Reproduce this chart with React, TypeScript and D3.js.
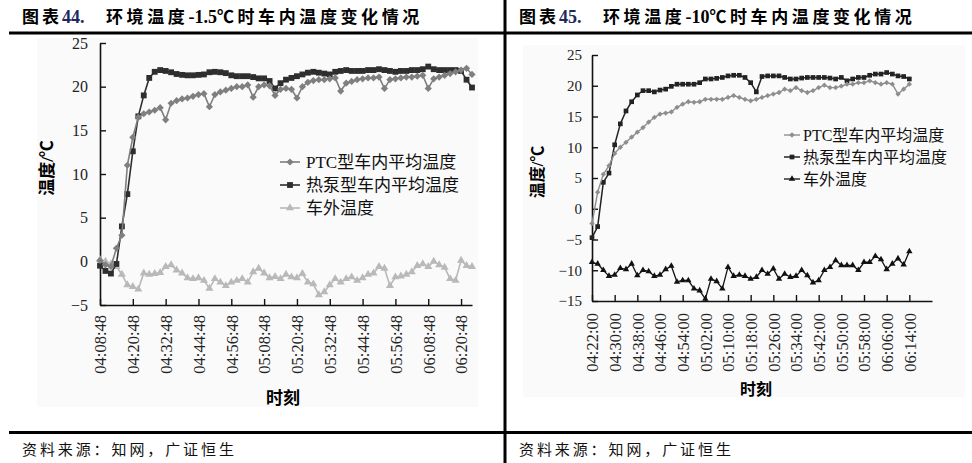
import { useEffect, useRef } from "react";
import * as d3 from "d3";

const W = 972;
const H = 463;
const SERIF = '"Liberation Serif", "Noto Sans CJK SC", serif';
const CJK = '"Noto Sans CJK SC", sans-serif';
const SAMPLE_MIN = 2; // both recordings are sampled every 2 minutes

// ---- 图表44: ambient -1.5℃, first sample 04:08:48 ----
const leftTickLabels = [
  "04:08:48", "04:20:48", "04:32:48", "04:44:48", "04:56:48", "05:08:48",
  "05:20:48", "05:32:48", "05:44:48", "05:56:48", "06:08:48", "06:20:48",
];
const leftPtc = [
  0.1, -0.4, -0.6, 1.5, 3.0, 11.0, 14.2, 16.5, 16.9, 17.1, 17.3, 17.6, 16.2, 18.1, 18.4, 18.6, 18.7,
  18.9, 19.1, 19.2, 17.7, 19.1, 19.4, 19.6, 19.8, 20.0, 20.0, 20.2, 18.8, 20.0, 20.2, 20.1, 19.0,
  19.7, 19.8, 19.7, 18.7, 20.0, 20.5, 20.7, 20.8, 20.8, 20.9, 21.0, 19.5, 20.4, 20.6, 20.8, 20.9,
  21.0, 21.0, 21.1, 19.8, 20.8, 20.9, 21.0, 21.1, 21.1, 21.2, 21.3, 19.8, 20.9, 21.1, 21.3, 21.5,
  21.7, 21.9, 22.1, 21.4,
];
const leftHeatPump = [
  -0.5, -1.1, -1.4, -0.3, 4.0, 7.7, 12.6, 16.6, 19.0, 21.0, 21.7, 21.9, 21.8, 21.65, 21.45, 21.35,
  21.3, 21.3, 21.35, 21.4, 21.65, 21.7, 21.65, 21.55, 21.3, 21.2, 21.2, 21.2, 21.1, 20.95, 20.95,
  20.65, 19.8, 20.4, 20.8, 21.0, 21.2, 21.4, 21.6, 21.7, 21.6, 21.5, 21.4, 21.7, 21.8, 21.9, 21.8,
  21.8, 21.8, 21.9, 21.9, 22.0, 21.9, 21.8, 21.7, 21.8, 21.8, 21.9, 21.9, 22.0, 22.3, 22.0, 21.9,
  21.9, 21.9, 21.9, 21.8, 20.8, 19.9,
];
const leftOutside = [
  0.2, 0, -0.3, -0.6, -1.5, -2.7, -2.9, -3.2, -1.35, -1.5, -1.4, -1.3, -0.6, -0.4, -1.0, -1.35,
  -1.9, -2.0, -1.9, -2.2, -3.1, -2.0, -2.4, -2.8, -2.4, -2.2, -2.0, -2.4, -1.2, -0.8, -1.35, -1.9,
  -1.75, -2.0, -1.5, -1.8, -1.9, -1.4, -2.4, -2.6, -3.85, -3.5, -2.7, -2.0, -2.4, -2.0, -1.8, -2.2,
  -1.9, -1.5, -1.35, -0.6, -0.8, -2.8, -1.8, -1.7, -1.5, -1.2, -0.5, -0.3, -0.6, 0, -0.4, -0.7,
  -2.0, -2.2, 0.1, -0.5, -0.6,
];

// ---- 图表45: ambient -10℃, first sample 04:22:00 ----
const rightTickLabels = [
  "04:22:00", "04:30:00", "04:38:00", "04:46:00", "04:54:00", "05:02:00", "05:10:00", "05:18:00",
  "05:26:00", "05:34:00", "05:42:00", "05:50:00", "05:58:00", "06:06:00", "06:14:00",
];
const rightPtc = [
  -2.4, 2.7, 5.6, 7.0, 9.0, 10.0, 10.8, 11.65, 12.45, 13.2, 14.1, 14.85, 15.4, 15.55, 15.75, 16.5,
  17.0, 17.4, 17.3, 17.4, 17.8, 17.8, 17.8, 17.8, 18.1, 18.4, 18.1, 17.8, 17.55, 17.8, 18.1, 18.4,
  18.65, 18.9, 19.45, 19.2, 19.7, 19.2, 18.9, 19.2, 19.7, 20.1, 19.7, 19.7, 19.95, 20.25, 20.25,
  20.5, 20.5, 20.8, 20.5, 20.25, 20.5, 20.25, 18.65, 19.45, 20.25,
];
const rightHeatPump = [
  -4.7, -2.9, 4.3, 5.8, 10.4, 13.8, 15.9, 17.4, 18.5, 19.2, 19.2, 19.0, 19.3, 19.45, 19.9, 20.25,
  20.25, 20.25, 20.25, 20.5, 21.1, 21.1, 21.2, 21.35, 21.6, 21.7, 21.7, 21.35, 20.5, 19.0, 21.5,
  21.6, 21.6, 21.6, 21.35, 21.1, 21.1, 21.25, 21.35, 21.35, 21.35, 21.35, 21.25, 21.1, 21.35, 20.8,
  21.1, 21.35, 21.35, 21.7, 21.9, 21.9, 22.15, 21.9, 21.6, 21.5, 21.1,
];
const rightOutside = [
  -8.7, -8.95, -10.0, -10.95, -10.75, -9.65, -9.85, -8.95, -10.85, -10.0, -10.2, -10.95, -10.75,
  -9.85, -9.3, -11.9, -11.65, -11.65, -13.0, -13.3, -14.65, -11.4, -11.8, -13.0, -9.5, -10.95,
  -10.75, -10.95, -11.4, -11.1, -10.0, -10.6, -9.75, -11.4, -10.6, -11.1, -10.95, -10.0, -10.85,
  -12.0, -11.65, -10.0, -9.5, -8.4, -9.2, -9.2, -9.2, -10.0, -8.7, -8.7, -7.7, -8.25, -9.85, -8.95,
  -8.1, -9.1, -6.95,
];

const seriesNames = ["PTC型车内平均温度", "热泵型车内平均温度", "车外温度"];

type Sym = "diamond" | "square" | "triangle";
interface SeriesDef { label: string; values: number[]; color: string; sym: Sym; size: number; width: number }

interface PanelCfg {
  fig: string;
  title: string;
  figX: number;
  titleX: number;
  ticks: string[];
  tickStep: number;
  xMax: number;
  yDomain: [number, number];
  plot: { l: number; r: number; t: number; b: number };
  series: SeriesDef[];
  drawOrder: number[];
  legend: { x: number; y: number; dy: number; fs: number; half: number; textX: number };
  fs: { ytick: number; xtick: number; axis: number };
  yLabel: [number, number];
  xLabel: [number, number];
  xPad: number;
  yPad: number;
  bg: [number, number, number, number];
}

const panels: PanelCfg[] = [
  {
    fig: "44.",
    title: "环境温度-1.5℃时车内温度变化情况",
    figX: 22,
    titleX: 106,
    ticks: leftTickLabels,
    tickStep: 12,
    xMax: 136,
    yDomain: [-5, 25],
    plot: { l: 100, r: 472, t: 43, b: 305 },
    series: [
      { label: seriesNames[0], values: leftPtc, color: "#7f7f7f", sym: "diamond", size: 26, width: 1.6 },
      { label: seriesNames[1], values: leftHeatPump, color: "#2e2e2e", sym: "square", size: 34, width: 1.6 },
      { label: seriesNames[2], values: leftOutside, color: "#b9b9b9", sym: "triangle", size: 28, width: 1.6 },
    ],
    drawOrder: [2, 1, 0],
    legend: { x: 290, y: 162, dy: 23, fs: 17, half: 10, textX: 306 },
    fs: { ytick: 16, xtick: 16.5, axis: 17 },
    yLabel: [47, 168],
    xLabel: [283, 404],
    xPad: 10,
    yPad: 12,
    bg: [37, 38, 441, 369],
  },
  {
    fig: "45.",
    title: "环境温度-10℃时车内温度变化情况",
    figX: 519,
    titleX: 603,
    ticks: rightTickLabels,
    tickStep: 8,
    xMax: 120,
    yDomain: [-15, 25],
    plot: { l: 592, r: 932, t: 55, b: 301 },
    series: [
      { label: seriesNames[0], values: rightPtc, color: "#8e8e8e", sym: "diamond", size: 14, width: 1.4 },
      { label: seriesNames[1], values: rightHeatPump, color: "#232323", sym: "square", size: 22, width: 1.5 },
      { label: seriesNames[2], values: rightOutside, color: "#111111", sym: "triangle", size: 18, width: 1.3 },
    ],
    drawOrder: [2, 1, 0],
    legend: { x: 792, y: 135, dy: 22, fs: 16, half: 8, textX: 803 },
    fs: { ytick: 15, xtick: 16.5, axis: 16 },
    yLabel: [537, 172],
    xLabel: [756, 395],
    xPad: 12,
    yPad: 10,
    bg: [523, 45, 442, 352],
  },
];

function symbolPath(sym: Sym, size: number) {
  if (sym === "triangle") return d3.symbol().type(d3.symbolTriangle).size(size)()!;
  return d3.symbol().type(d3.symbolSquare).size(size)()!;
}

// split into latin / CJK runs so only the CJK characters get the wide tracking
function runs(s: string) {
  return s.match(/[\x20-\x7e]+|[^\x20-\x7e]+/g) || [];
}

function drawPanel(root: d3.Selection<SVGGElement, unknown, null, undefined>, c: PanelCfg) {
  const x = d3.scaleLinear().domain([0, c.xMax]).range([c.plot.l, c.plot.r]);
  const y = d3.scaleLinear().domain(c.yDomain).range([c.plot.b, c.plot.t]);

  root.append("rect")
    .attr("x", c.bg[0]).attr("y", c.bg[1]).attr("width", c.bg[2]).attr("height", c.bg[3])
    .attr("fill", "#fafafa");

  // Y axis
  const yTicks = d3.range(c.yDomain[0], c.yDomain[1] + 1, 5);
  const ya = root.append("g")
    .attr("transform", `translate(${c.plot.l},0)`)
    .call(d3.axisLeft(y).tickValues(yTicks).tickSizeInner(-6).tickSizeOuter(0).tickPadding(c.yPad).tickFormat(d3.format("d")));
  ya.select(".domain").attr("stroke", "#111").attr("stroke-width", 1.6);
  ya.selectAll(".tick line").attr("stroke", "#111").attr("stroke-width", 1.4);
  ya.selectAll("text").style("font-family", SERIF).style("font-size", `${c.fs.ytick}px`).style("fill", "#222");

  // X axis
  const xa = root.append("g")
    .attr("transform", `translate(0,${c.plot.b})`)
    .call(
      d3.axisBottom(x)
        .tickValues(c.ticks.map((_, i) => i * c.tickStep))
        .tickSizeInner(-6).tickSizeOuter(0)
        .tickFormat((_, i) => c.ticks[i]),
    );
  xa.select(".domain").attr("stroke", "#111").attr("stroke-width", 1.6);
  xa.selectAll(".tick line").attr("stroke", "#111").attr("stroke-width", 1.4);
  xa.selectAll("text")
    .attr("transform", "rotate(-90)")
    .attr("x", -c.xPad).attr("y", 0).attr("dy", "0.35em")
    .attr("text-anchor", "end")
    .style("font-family", SERIF).style("font-size", `${c.fs.xtick}px`).style("fill", "#222");

  // Series
  const line = d3.line<number>().x((_, i) => x(i * SAMPLE_MIN)).y((d) => y(d));
  c.drawOrder.forEach((k) => {
    const s = c.series[k];
    const g = root.append("g");
    g.append("path").attr("d", line(s.values)).attr("fill", "none")
      .attr("stroke", s.color).attr("stroke-width", s.width).attr("stroke-linejoin", "round");
    g.selectAll("path.m").data(s.values).join("path")
      .attr("class", "m")
      .attr("d", symbolPath(s.sym, s.size))
      .attr("transform", (d, i) => `translate(${x(i * SAMPLE_MIN)},${y(d)})${s.sym === "diamond" ? " rotate(45)" : ""}`)
      .attr("fill", s.color);
  });

  // Legend
  c.series.forEach((s, i) => {
    const ly = c.legend.y + i * c.legend.dy;
    const lg = root.append("g");
    lg.append("line").attr("x1", c.legend.x - c.legend.half).attr("x2", c.legend.x + c.legend.half)
      .attr("y1", ly).attr("y2", ly).attr("stroke", s.color).attr("stroke-width", s.width);
    lg.append("path").attr("d", symbolPath(s.sym, s.size))
      .attr("transform", `translate(${c.legend.x},${ly})${s.sym === "diamond" ? " rotate(45)" : ""}`)
      .attr("fill", s.color);
    lg.append("text").attr("x", c.legend.textX).attr("y", ly).attr("dy", "0.36em")
      .style("font-family", SERIF).style("font-size", `${c.legend.fs}px`).style("fill", "#111")
      .text(s.label);
  });

  // Axis titles
  root.append("text")
    .attr("transform", `translate(${c.yLabel[0]},${c.yLabel[1]}) rotate(-90)`)
    .attr("text-anchor", "middle").attr("dy", "0.35em")
    .style("font-family", SERIF).style("font-weight", "bold").style("font-size", `${c.fs.axis}px`)
    .text("温度/℃");
  root.append("text")
    .attr("x", c.xLabel[0]).attr("y", c.xLabel[1]).attr("text-anchor", "middle")
    .style("font-family", SERIF).style("font-weight", "bold").style("font-size", `${c.fs.axis}px`)
    .text("时刻");

  // Figure title
  const t = root.append("text").attr("x", c.figX).attr("y", 23)
    .style("font-family", SERIF).style("font-weight", "bold").style("font-size", "17px");
  t.append("tspan").style("letter-spacing", "3px").text("图表");
  t.append("tspan").attr("fill", "#1d2a5e").style("font-size", "18px").text(c.fig);
  const tt = root.append("text").attr("x", c.titleX).attr("y", 23)
    .style("font-family", SERIF).style("font-weight", "bold").style("font-size", "17px");
  runs(c.title).forEach((r) => {
    const ascii = /^[\x20-\x7e]+$/.test(r);
    tt.append("tspan")
      .style("letter-spacing", ascii ? "0px" : "3.6px")
      .style("font-size", ascii ? "18px" : "17px")
      .text(r);
  });

  // Source
  root.append("text").attr("x", c.figX).attr("y", 455)
    .style("font-family", CJK).style("font-size", "15px").style("letter-spacing", "2.9px").style("fill", "#111")
    .text("资料来源：知网，广证恒生");
}

export default function App() {
  const ref = useRef<SVGSVGElement>(null);

  useEffect(() => {
    if (!ref.current) return;
    const svg = d3.select(ref.current);
    svg.selectAll("*").remove();
    svg.append("rect").attr("width", W).attr("height", H).attr("fill", "#fff");

    panels.forEach((p) => drawPanel(svg.append("g"), p));

    // Report frame rules
    svg.append("rect").attr("x", 9).attr("y", 31.5).attr("width", W - 9).attr("height", 3).attr("fill", "#000");
    svg.append("rect").attr("x", 9).attr("y", 431).attr("width", W - 9).attr("height", 3).attr("fill", "#000");
    svg.append("rect").attr("x", 503.5).attr("y", 0).attr("width", 3).attr("height", H).attr("fill", "#000");
  }, []);

  return (
    <div style={{ position: "absolute", left: 0, top: 0 }}>
      <svg ref={ref} width={W} height={H} style={{ display: "block" }} />
    </div>
  );
}
